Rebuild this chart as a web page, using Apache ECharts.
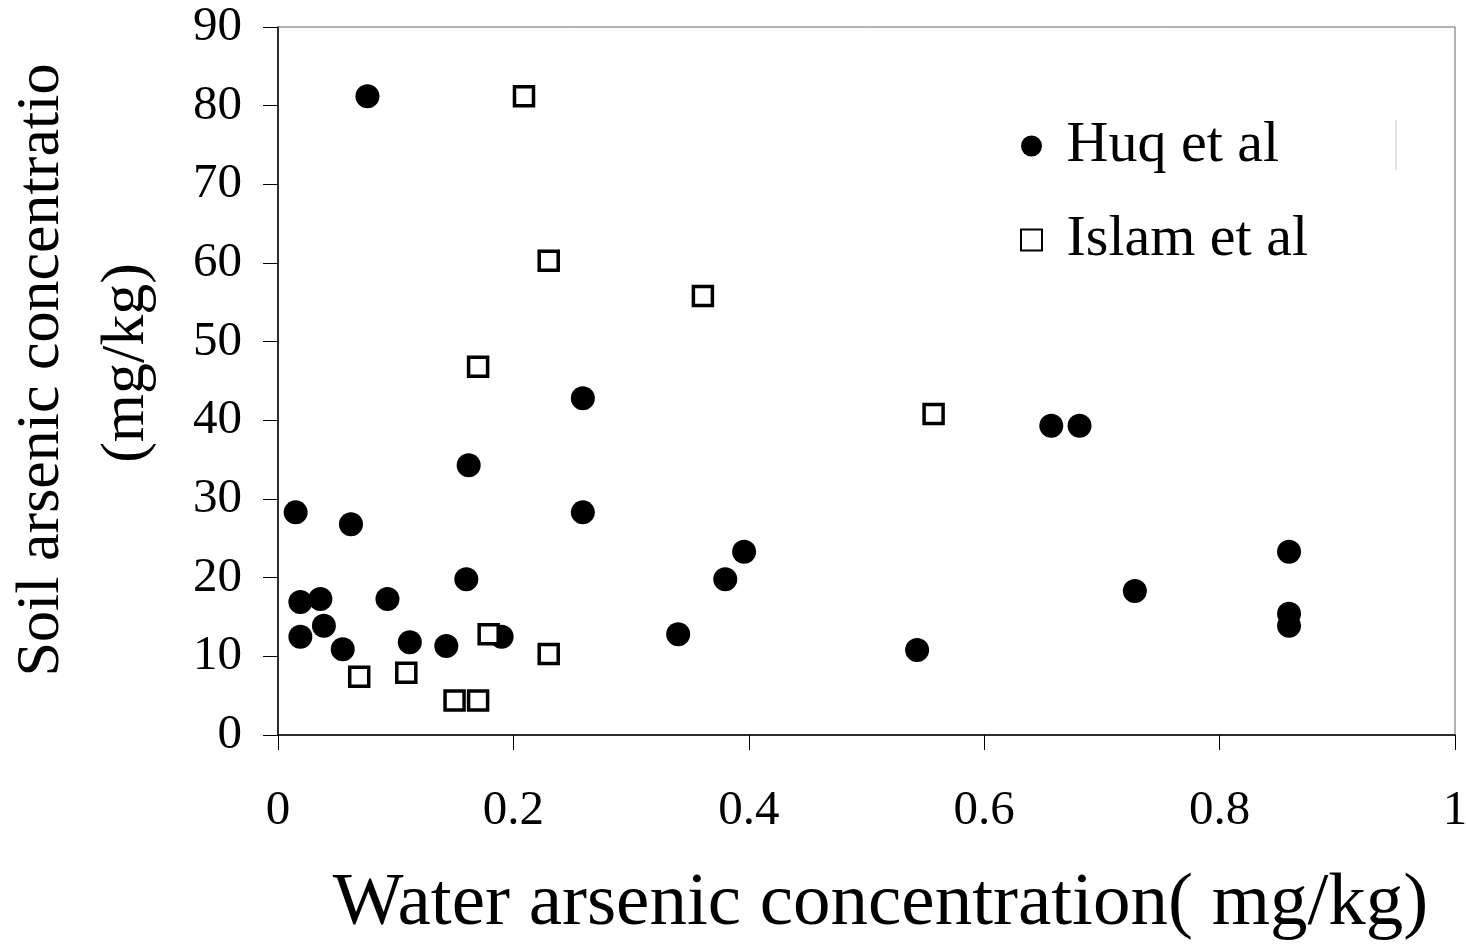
<!DOCTYPE html>
<html>
<head>
<meta charset="utf-8">
<script src="https://cdn.jsdelivr.net/npm/echarts@6/dist/echarts.min.js"></script>
<style>
  html, body { margin: 0; padding: 0; background: #fff; }
  #chart { width: 1466px; height: 945px; }
</style>
</head>
<body>
<div id="chart"></div>
<script>
// Huq et al : [eau, sol]
const huqWater = [0.015, 0.019, 0.036, 0.019, 0.039, 0.055, 0.062, 0.076, 0.093, 0.112, 0.143, 0.160, 0.162, 0.190, 0.259, 0.259, 0.340, 0.380, 0.396, 0.543, 0.657, 0.681, 0.728, 0.859, 0.859, 0.859];
const huqSoil = [28.3, 16.9, 17.3, 12.5, 13.9, 10.9, 26.8, 81.2, 17.3, 11.8, 11.3, 19.8, 34.3, 12.5, 42.8, 28.3, 12.8, 19.8, 23.3, 10.8, 39.3, 39.3, 18.3, 23.3, 15.4, 13.9];

// Islam et al
const islamWater = [0.209, 0.230, 0.361, 0.170, 0.557, 0.179, 0.230, 0.069, 0.109, 0.150, 0.170];
const islamSoil = [81.2, 60.3, 55.8, 46.8, 40.8, 12.8, 10.3, 7.4, 7.9, 4.4, 4.4];

const seriesNames = ['Huq et al', 'Islam et al'];

const toPairs = (xs, ys) => xs.map((x, i) => [x, ys[i]]);
const font = '"Liberation Serif", "Times New Roman", serif';

const chart = echarts.init(document.getElementById('chart'));
chart.setOption({
  animation: false,
  backgroundColor: '#fff',
  grid: {
    left: 278, right: 11, top: 27, bottom: 210,
    outerBoundsMode: 'none',
    show: true, borderColor: '#666', borderWidth: 1
  },
  legend: {
    orient: 'vertical',
    left: 1015,
    top: 111,
    itemWidth: 60,
    itemHeight: 21,
    itemGap: 34,
    data: [
      { name: seriesNames[0], icon: 'circle' },
      { name: seriesNames[1], icon: 'path://M0,0H10V10H0Z' }
    ],
    textStyle: { fontFamily: font, fontSize: 58, color: '#000', lineHeight: 60 }
  },
  xAxis: {
    type: 'value',
    min: 0, max: 1, interval: 0.2,
    name: 'Water arsenic concentration( mg/kg)',
    nameLocation: 'middle',
    nameGap: 132,
    nameTextStyle: { fontFamily: font, fontSize: 75, color: '#000', padding: [0, 0, 0, 28] },
    axisLine: { lineStyle: { color: '#000', width: 1.5 } },
    axisTick: { show: true, length: 15, lineStyle: { color: '#000' } },
    axisLabel: { fontFamily: font, fontSize: 49, color: '#000', margin: 52 },
    splitLine: { show: false }
  },
  yAxis: {
    type: 'value',
    min: 0, max: 90, interval: 10,
    axisLine: { show: true, lineStyle: { color: '#000', width: 1.5 } },
    axisTick: { show: true, length: 15, lineStyle: { color: '#000' } },
    axisLabel: { fontFamily: font, fontSize: 49, color: '#000', margin: 36 },
    splitLine: { show: false }
  },
  graphic: [
    {
      type: 'text', x: 42, y: 370, rotation: Math.PI / 2,
      style: { text: 'Soil arsenic concentratio', font: '62px ' + font, fill: '#000', textAlign: 'center', textVerticalAlign: 'middle' }
    },
    {
      type: 'text', x: 127, y: 363, rotation: Math.PI / 2,
      style: { text: '(mg/kg)', font: '62px ' + font, fill: '#000', textAlign: 'center', textVerticalAlign: 'middle' }
    },
    {
      type: 'line', shape: { x1: 1396, y1: 120, x2: 1396, y2: 170 },
      style: { stroke: '#ccc', lineWidth: 1 }
    }
  ],
  series: [
    {
      name: seriesNames[0],
      type: 'scatter',
      symbol: 'circle',
      symbolSize: 24,
      itemStyle: { color: '#000', opacity: 1 },
      data: toPairs(huqWater, huqSoil)
    },
    {
      name: seriesNames[1],
      type: 'scatter',
      symbol: 'rect',
      symbolSize: 19,
      itemStyle: { color: '#fff', borderColor: '#000', borderWidth: 3.5, opacity: 1 },
      data: toPairs(islamWater, islamSoil)
    }
  ]
});
</script>
</body>
</html>
